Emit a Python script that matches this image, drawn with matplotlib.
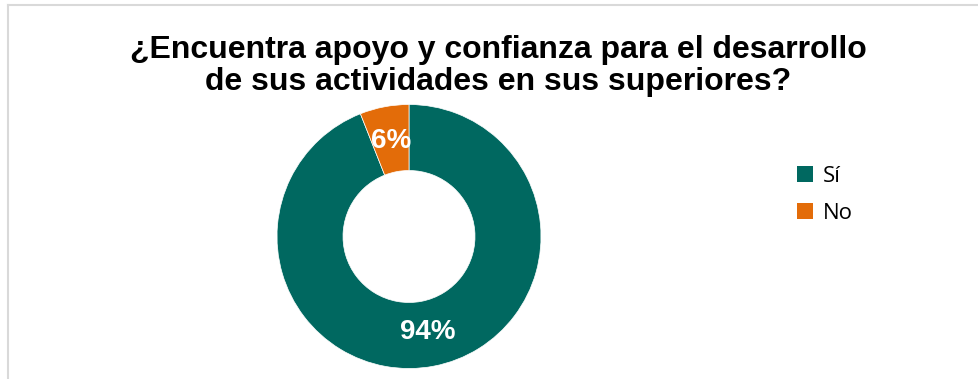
import matplotlib.pyplot as plt
from matplotlib.lines import Line2D
from matplotlib.patches import Patch

# survey answers
labels = ['Sí', 'No']
values = [94, 6]
colors = ['#006860', '#E36C09']

title = '¿Encuentra apoyo y confianza para el desarrollo\nde sus actividades en sus superiores?'

W, H = 979, 379
fig = plt.figure(figsize=(W / 100, H / 100), dpi=100)

# chart frame (top and left edges only show)
fig.add_artist(Line2D([8.5 / W, 8.5 / W], [0, 1 - 5 / H], color='#D9D9D9', lw=1.5))
fig.add_artist(Line2D([8.5 / W, 1], [1 - 5 / H, 1 - 5 / H], color='#D9D9D9', lw=1.5))

fig.text(498 / W, 1 - 66 / H, title, ha='center', va='center', fontsize=23,
         fontweight='bold', family='Liberation Sans', linespacing=1.12)

# donut: centre (409, 236.5), radius 132 px
cx, cy, r = 409, 236.5, 132
ax = fig.add_axes([(cx - r) / W, 1 - (cy + r) / H, 2 * r / W, 2 * r / H])
wedges, _, autotexts = ax.pie(values, colors=colors, startangle=90, counterclock=False,
                              radius=1, autopct='%1.0f%%', pctdistance=0.74,
                              wedgeprops=dict(width=0.5, edgecolor='white', linewidth=0.5))
for t in autotexts:
    t.set_color('white')
    t.set_fontsize(20)
    t.set_fontweight('bold')
    t.set_family('Liberation Sans')
ax.set_xlim(-1, 1)
ax.set_ylim(-1, 1)
ax.set_aspect('equal')

handles = [Patch(facecolor=c, edgecolor='none') for c in colors]
fig.legend(handles, labels, loc='upper left', bbox_to_anchor=(777 / W, 1 - 146 / H),
           frameon=False, handlelength=0.7, handleheight=0.7,
           handletextpad=0.45, labelspacing=0.7, prop={'family': 'Open Sans', 'size': 16})

fig.savefig('out.png', dpi=100)
